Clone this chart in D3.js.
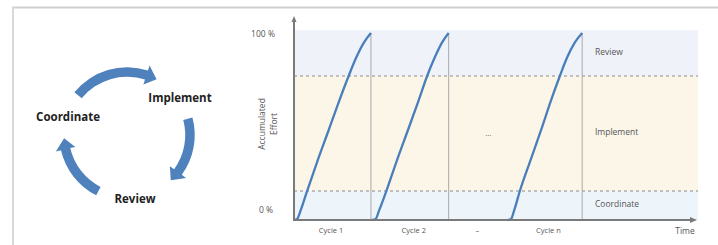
<!DOCTYPE html>
<html><head><meta charset="utf-8">
<script src="https://cdn.jsdelivr.net/npm/d3@7"></script>
<style>html,body{margin:0;padding:0;background:#fff;}svg{display:block;}</style>
</head><body>
<script>
// ---- data ----
const phases = ["Coordinate", "Implement", "Review"];
const phaseBounds = [15.5, 77];          // % effort where Coordinate→Implement and Implement→Review
const yTickValues = [0, 100];
const yTickLabels = ["0 %", "100 %"];
const cycleEffort = [0, 0.5, 5, 15.5, 31, 48, 64, 77, 87, 95, 100];
const cycle1Time = [0, 0.08, 0.17, 0.34, 0.6, 0.9, 1.18, 1.42, 1.62, 1.82, 2.0];
const cycle2Time = [2.03, 2.12, 2.21, 2.4, 2.66, 2.96, 3.24, 3.46, 3.66, 3.85, 4.02];
const cycleNTime = [5.56, 5.64, 5.72, 5.87, 6.13, 6.42, 6.68, 6.91, 7.1, 7.3, 7.49];
const xLabels = ["Cycle 1", "Cycle 2", "–", "Cycle n"];
const xLabelTimes = [0.95, 3.1, 4.75, 6.6];

const W = 718, H = 245;
const svg = d3.select("body").append("svg").attr("width", W).attr("height", H)
  .style("font-family", "'Open Sans', sans-serif");

// frame
svg.append("line").attr("x1", 12).attr("x2", W).attr("y1", 7.5).attr("y2", 7.5).attr("stroke", "#cfcfcf").attr("stroke-width", 2);
svg.append("line").attr("x1", 13).attr("x2", 13).attr("y1", 7).attr("y2", H).attr("stroke", "#d8d8d8").attr("stroke-width", 2);

// ---- cycle diagram ----
const cx = 127, cy = 135, r = 63, bw = 9.5, hw = 10, headDeg = 10;
const arcs = [
  {a0: -141, a1: -62},
  {a0: -15, a1: 46},
  {a0: 117, a1: 177}
];
function pt(rad, deg) { const a = deg * Math.PI / 180; return [cx + rad * Math.cos(a), cy + rad * Math.sin(a)]; }
function arrowPath(a0, a1) {
  const ab = a1 - headDeg;
  const ro = r + bw / 2, ri = r - bw / 2;
  const p = d3.path();
  let s = pt(ro, a0); p.moveTo(s[0], s[1]);
  p.arc(cx, cy, ro, a0 * Math.PI / 180, ab * Math.PI / 180, false);
  let q = pt(r + hw, ab); p.lineTo(q[0], q[1]);
  q = pt(r, a1); p.lineTo(q[0], q[1]);
  q = pt(r - hw, ab); p.lineTo(q[0], q[1]);
  q = pt(ri, ab); p.lineTo(q[0], q[1]);
  p.arc(cx, cy, ri, ab * Math.PI / 180, a0 * Math.PI / 180, true);
  p.closePath();
  return p.toString();
}
svg.append("g").selectAll("path").data(arcs).join("path")
  .attr("d", d => arrowPath(d.a0, d.a1)).attr("fill", "#4f81bd");
const diagLabelPos = {"Coordinate": [68, 117], "Implement": [180, 98], "Review": [135, 199]};
svg.append("g").selectAll("text").data(phases).join("text")
  .attr("x", d => diagLabelPos[d][0]).attr("y", d => diagLabelPos[d][1]).attr("dy", "0.35em")
  .attr("text-anchor", "middle").attr("font-size", 11.5).attr("font-weight", 700).attr("fill", "#222")
  .text(d => d);

// ---- effort chart ----
const x = d3.scaleLinear().domain([0, 10.5]).range([294, 698]);
const y = d3.scaleLinear().domain([0, 100]).range([220, 33]);
const bandTop = 101.5;

const bands = [
  {lo: 0, hi: phaseBounds[0], color: "#eef5fa"},
  {lo: phaseBounds[0], hi: phaseBounds[1], color: "#fbf6e8"},
  {lo: phaseBounds[1], hi: bandTop, color: "#eff3f9"}
];
svg.append("g").selectAll("rect").data(bands).join("rect")
  .attr("x", x(0)).attr("width", x(10.5) - x(0))
  .attr("y", d => y(d.hi)).attr("height", d => y(d.lo) - y(d.hi))
  .attr("fill", d => d.color);

// dashed phase boundaries
svg.append("g").selectAll("line").data(phaseBounds).join("line")
  .attr("x1", x(0)).attr("x2", x(10.5)).attr("y1", d => y(d)).attr("y2", d => y(d))
  .attr("stroke", "#8a8a8a").attr("stroke-width", 1).attr("stroke-dasharray", "3,3");

// cycle end vertical lines
const cycles = [cycle1Time, cycle2Time, cycleNTime];
svg.append("g").selectAll("line").data(cycles).join("line")
  .attr("x1", d => x(d[d.length - 1])).attr("x2", d => x(d[d.length - 1]))
  .attr("y1", y(100)).attr("y2", y(0)).attr("stroke", "#a9a9a9").attr("stroke-width", 1);

// curves
const line = d3.line().x(d => x(d[0])).y(d => y(d[1])).curve(d3.curveMonotoneX);
svg.append("g").selectAll("path").data(cycles).join("path")
  .attr("d", t => line(t.map((v, i) => [v, cycleEffort[i]])))
  .attr("fill", "none").attr("stroke", "#4a7ebb").attr("stroke-width", 2.3);

// axes
const axisColor = "#7a7a7a";
svg.append("line").attr("x1", x(0)).attr("x2", x(0)).attr("y1", y(0)).attr("y2", 20)
  .attr("stroke", axisColor).attr("stroke-width", 2);
svg.append("path").attr("d", `M${x(0) - 2.5},22 L${x(0)},16 L${x(0) + 2.5},22 Z`).attr("fill", axisColor);
svg.append("line").attr("x1", x(0) - 1).attr("x2", 692).attr("y1", y(0)).attr("y2", y(0))
  .attr("stroke", axisColor).attr("stroke-width", 2);
svg.append("path").attr("d", `M690,${y(0) - 3} L697,${y(0)} L690,${y(0) + 3} Z`).attr("fill", axisColor);

// y tick labels
const yAxis = d3.axisLeft(y).tickValues(yTickValues).tickSize(0).tickPadding(0)
  .tickFormat((d, i) => yTickLabels[i]);
const gy = svg.append("g").attr("transform", `translate(${x(0) - 31},0)`).call(yAxis);
gy.select(".domain").remove();
gy.selectAll("text").attr("font-size", 8.5).attr("fill", "#555").attr("font-family", "'Open Sans', sans-serif")
  .attr("text-anchor", "middle").attr("x", 0);
gy.selectAll(".tick").filter(d => d === 0).attr("transform", `translate(3,${y(0) - 10})`);
gy.selectAll(".tick").filter(d => d === 100).attr("transform", `translate(0,${y(100) + 1})`);

// x labels
const xAxis = d3.axisBottom(x).tickValues(xLabelTimes).tickSize(0).tickPadding(0)
  .tickFormat((d, i) => xLabels[i]);
const gx = svg.append("g").attr("transform", `translate(0,${y(0) + 8})`).call(xAxis);
gx.select(".domain").remove();
gx.selectAll("text").attr("font-size", 7.5).attr("fill", "#555").attr("font-family", "'Open Sans', sans-serif");

svg.append("text").attr("x", 685).attr("y", 231).attr("dy", "0.35em").attr("text-anchor", "middle")
  .attr("font-size", 8.5).attr("fill", "#555").text("Time");

// y axis title
svg.append("text").attr("transform", `translate(265,124) rotate(-90)`).attr("text-anchor", "middle")
  .attr("font-size", 8.5).attr("fill", "#555").text("Accumulated");
svg.append("text").attr("transform", `translate(277,124) rotate(-90)`).attr("text-anchor", "middle")
  .attr("font-size", 8.5).attr("fill", "#555").text("Effort");

// ellipsis in middle
svg.append("text").attr("x", x(5.05)).attr("y", y(45)).attr("text-anchor", "middle")
  .attr("font-size", 8).attr("fill", "#666").text("...");

// phase labels on right
const phaseLabelY = {"Coordinate": (0 + phaseBounds[0]) / 2 + 1, "Implement": 47, "Review": 90};
svg.append("g").selectAll("text").data(phases).join("text")
  .attr("x", 595).attr("y", d => y(phaseLabelY[d])).attr("dy", "0.35em")
  .attr("font-size", 8.5).attr("fill", "#555").text(d => d);
</script>
</body></html>
